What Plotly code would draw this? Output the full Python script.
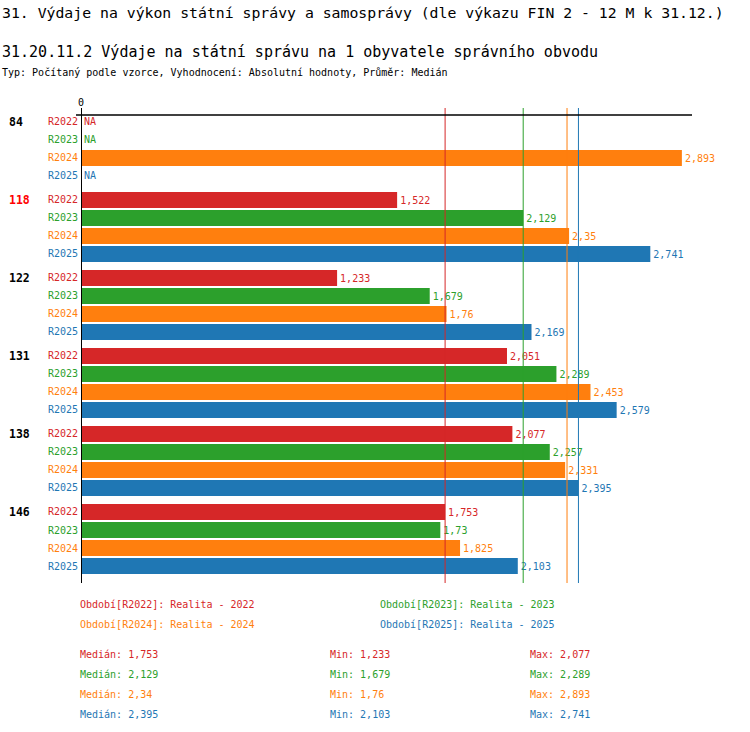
"""Výdaje na státní správu na 1 obyvatele – horizontal grouped bars by obvod."""
import plotly.graph_objects as go

W, H = 750, 732
FONT = "DejaVu Sans Mono"

groups = ["84", "118", "122", "131", "138", "146"]
highlight = "118"
periods = ["R2022", "R2023", "R2024", "R2025"]
colors = ["#d62728", "#2ca02c", "#ff7f0e", "#1f77b4"]

r2022 = [None, 1.522, 1.233, 2.051, 2.077, 1.753]
r2023 = [None, 2.129, 1.679, 2.289, 2.257, 1.73]
r2024 = [2.893, 2.35, 1.76, 2.453, 2.331, 1.825]
r2025 = [None, 2.741, 2.169, 2.579, 2.395, 2.103]
series = [r2022, r2023, r2024, r2025]

medians = [1.753, 2.129, 2.34, 2.395]
mins = [1.233, 1.679, 1.76, 2.103]
maxs = [2.077, 2.289, 2.893, 2.741]
legend_names = ["Realita - 2022", "Realita - 2023", "Realita - 2024", "Realita - 2025"]

title1 = "31. Výdaje na výkon státní správy a samosprávy (dle výkazu FIN 2 - 12 M k 31.12.)"
title2 = "31.20.11.2 Výdaje na státní správu na 1 obyvatele správního obvodu"
title3 = "Typ: Počítaný podle vzorce, Vyhodnocení: Absolutní hodnoty, Průměr: Medián"

GROUP_STEP = 78 / 18  # group pitch in row units


def px_x(x):
    return x / W


def px_y(y):
    return 1 - y / H


def fmt(v):
    return str(v).replace(".", ",")


def row_pos(g, s):
    return g * GROUP_STEP + s


fig = go.Figure()
for s, (name, vals, col) in enumerate(zip(periods, series, colors)):
    fig.add_trace(go.Bar(
        orientation="h",
        y=[row_pos(g, s) for g in range(len(groups))],
        x=vals,
        width=16 / 18,
        marker=dict(color=col, line=dict(width=0)),
        text=[fmt(v) if v is not None else "" for v in vals],
        textposition="outside",
        textfont=dict(family=FONT, size=10, color=col),
        constraintext="none",
        cliponaxis=False,
        showlegend=False,
        name=name,
        hoverinfo="skip",
    ))

ann = []
shapes = []

# titles
for txt, y, size in [(title1, 12, 14.8), (title2, 52, 15), (title3, 73, 10)]:
    ann.append(dict(text=txt, x=0, y=px_y(y), xref="paper", yref="paper",
                    xanchor="left", yanchor="middle", showarrow=False,
                    font=dict(family=FONT, size=size, color="black")))

# row / group labels, NA markers
for g, grp in enumerate(groups):
    ann.append(dict(text=f"<b>{grp}</b>", x=px_x(7), y=row_pos(g, 0), xref="paper", yref="y",
                    xanchor="left", yanchor="middle", showarrow=False,
                    font=dict(family=FONT, size=11.5,
                              color="#ff0000" if grp == highlight else "black")))
    for s, (per, col) in enumerate(zip(periods, colors)):
        ann.append(dict(text=per, x=px_x(80), y=row_pos(g, s), xref="paper", yref="y",
                        xanchor="right", yanchor="middle", showarrow=False,
                        font=dict(family=FONT, size=10, color=col)))
        if series[s][g] is None:
            ann.append(dict(text="NA", x=0, y=row_pos(g, s), xref="x", yref="y",
                            xanchor="left", yanchor="middle", showarrow=False, xshift=1,
                            font=dict(family=FONT, size=10, color=col)))

ann.append(dict(text="0", x=0, y=px_y(103), xref="x", yref="paper", xanchor="center",
                yanchor="middle", showarrow=False, font=dict(family=FONT, size=10, color="black")))

# legend lines
for i, (per, name, col) in enumerate(zip(periods, legend_names, colors)):
    x = 78 if i % 2 == 0 else 378
    y = 604 + 20 * (i // 2)
    ann.append(dict(text=f"Období[{per}]: {name}", x=px_x(x), y=px_y(y), xref="paper", yref="paper",
                    xanchor="left", yanchor="middle", showarrow=False,
                    font=dict(family=FONT, size=10, color=col)))

# stats
for i, col in enumerate(colors):
    y = 654 + 20 * i
    for x, label, v in [(78, "Medián", medians[i]), (328, "Min", mins[i]), (528, "Max", maxs[i])]:
        ann.append(dict(text=f"{label}: {fmt(v)}", x=px_x(x), y=px_y(y), xref="paper", yref="paper",
                        xanchor="left", yanchor="middle", showarrow=False,
                        font=dict(family=FONT, size=10, color=col)))

# median lines
for m, col in zip(medians, colors):
    shapes.append(dict(type="line", xref="x", yref="y domain", x0=m, x1=m, y0=0, y1=1,
                       line=dict(color=col, width=1)))

# top rule and zero axis
shapes.append(dict(type="line", xref="paper", yref="paper", x0=px_x(76), x1=px_x(692),
                   y0=px_y(115), y1=px_y(115), line=dict(color="black", width=1.5)))
shapes.append(dict(type="line", xref="x", yref="y domain", x0=0, x1=0, y0=0, y1=1,
                   line=dict(color="black", width=2)))

X0, SCALE = 81, 207.7
XMAX = 3.0
top_px, bot_px = 108, 583
fig.update_layout(
    width=W, height=H,
    margin=dict(l=0, r=0, t=0, b=0),
    paper_bgcolor="white", plot_bgcolor="white",
    barmode="overlay",
    hovermode=False,
    xaxis=dict(visible=False, range=[0, XMAX],
               domain=[px_x(X0), px_x(X0 + XMAX * SCALE)]),
    yaxis=dict(visible=False, autorange=False,
               range=[(bot_px - 122) / 18, (top_px - 122) / 18],
               domain=[px_y(bot_px), px_y(top_px)]),
    annotations=ann,
    shapes=shapes,
)

# page body has a default 8px margin; drop it so the figure fills the window
fig.write_html("out.html", config={"displayModeBar": False},
               post_script="document.body.style.margin='0';")
